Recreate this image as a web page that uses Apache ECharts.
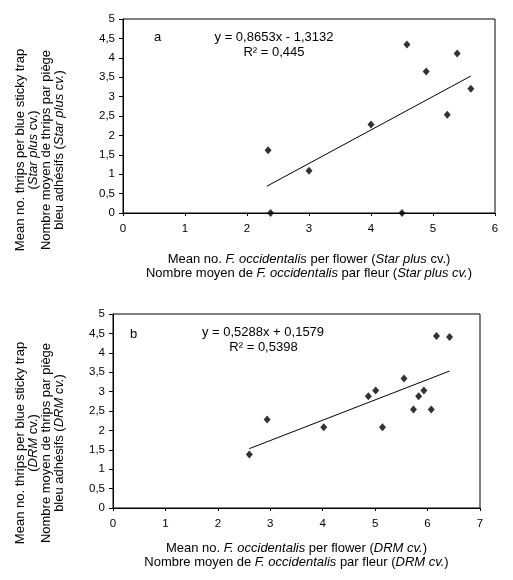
<!DOCTYPE html>
<html>
<head>
<meta charset="utf-8">
<script src="https://cdn.jsdelivr.net/npm/echarts@6/dist/echarts.min.js"></script>
<style>
html,body{margin:0;padding:0;background:#fff;}
#c{width:513px;height:580px;}
</style>
</head>
<body>
<div id="c"></div>
<script>
// Panel a: Star plus cv.
const starX = [2.34, 2.38, 3.00, 4.00, 4.50, 4.58, 4.89, 5.23, 5.39, 5.61];
const starY = [1.62, 0.00, 1.09, 2.28, 0.00, 4.34, 3.65, 2.53, 4.11, 3.20];
const trendAX = [2.32, 5.61];
const trendAY = [0.69, 3.53];
// Panel b: DRM cv.
const drmX = [2.60, 2.94, 4.02, 4.87, 5.01, 5.14, 5.55, 5.73, 5.83, 5.93, 6.07, 6.17, 6.42];
const drmY = [1.38, 2.28, 2.08, 2.88, 3.03, 2.08, 3.34, 2.54, 2.88, 3.03, 2.54, 4.43, 4.41];
const trendBX = [2.60, 6.42];
const trendBY = [1.53, 3.53];
// Axis ranges
const xMaxA = 6, xMaxB = 7, yMax = 5, yStep = 0.5, xStep = 1;
// Texts
const eqA = 'y = 0,8653x - 1,3132', r2A = 'R² = 0,445', labelA = 'a';
const eqB = 'y = 0,5288x + 0,1579', r2B = 'R² = 0,5398', labelB = 'b';

const FONT = 'Liberation Sans, Arial, sans-serif';
const TS = 13;   // title / annotation font size
const LS = 11.5; // tick label font size
const zip = (xs, ys) => xs.map((x, i) => [x, ys[i]]);
const fmt = v => String(v).replace('.', ',');

const chart = echarts.init(document.getElementById('c'), null, {renderer: 'canvas'});

const richStyle = {
  n: {fontFamily: FONT, fontSize: TS, color: '#000', lineHeight: 14},
  i: {fontFamily: FONT, fontSize: TS, color: '#000', fontStyle: 'italic', lineHeight: 14}
};

function xAxis(idx, max, name, gap) {
  return {
    type: 'value', gridIndex: idx, min: 0, max: max, interval: xStep,
    splitLine: {show: false},
    axisLine: {show: true, onZero: false, lineStyle: {color: '#000', width: 1}},
    axisTick: {show: true, inside: false, length: 3, lineStyle: {color: '#000'}},
    axisLabel: {color: '#000', fontFamily: FONT, fontSize: LS, margin: 10, formatter: fmt},
    name: name, nameLocation: 'middle', nameGap: gap,
    nameTextStyle: {color: '#000', fontFamily: FONT, fontSize: TS, lineHeight: 14, rich: richStyle}
  };
}
function yAxis(idx) {
  return {
    type: 'value', gridIndex: idx, min: 0, max: yMax, interval: yStep,
    splitLine: {show: false},
    axisLine: {show: true, onZero: false, lineStyle: {color: '#000', width: 1}},
    axisTick: {show: true, inside: false, length: 4, lineStyle: {color: '#000'}},
    axisLabel: {color: '#000', fontFamily: FONT, fontSize: LS, margin: 8, formatter: fmt}
  };
}

function ytitle(cx, cy, cv) {
  return {
    type: 'text', x: cx, y: cy, rotation: Math.PI / 2,
    style: {
      text: '{n|Mean no. thrips per blue sticky trap}\n' + cv.l2 + '\n{n|Nombre moyen de thrips par piège}\n' + cv.l4,
      rich: {
        n: {fontFamily: FONT, fontSize: TS, fill: '#000', lineHeight: 13},
        i: {fontFamily: FONT, fontSize: TS, fill: '#000', fontStyle: 'italic', lineHeight: 13}
      },
      font: TS + 'px ' + FONT, fill: '#000', lineHeight: 13,
      align: 'center', verticalAlign: 'middle'
    }
  };
}
function txt(x, y, s, align) {
  return {type: 'text', x: x, y: y,
    style: {text: s, font: TS + 'px ' + FONT, fill: '#000', align: align || 'center', verticalAlign: 'middle'}};
}

const option = {
  backgroundColor: '#fff',
  animation: false,
  grid: [
    {left: 123, top: 19, width: 372, height: 194, show: true, borderColor: '#000', borderWidth: 1, backgroundColor: 'transparent'},
    {left: 113, top: 314, width: 367, height: 194, show: true, borderColor: '#000', borderWidth: 1, backgroundColor: 'transparent'}
  ],
  xAxis: [
    xAxis(0, xMaxA, '{n|Mean no. }{i|F. occidentalis}{n| per flower (}{i|Star plus}{n| cv.)}\n{n|Nombre moyen de }{i|F. occidentalis}{n| par fleur (}{i|Star plus cv.}{n|)}', 39),
    xAxis(1, xMaxB, '{n|Mean no. }{i|F. occidentalis}{n| per flower (}{i|DRM cv.}{n|)}\n{n|Nombre moyen de }{i|F. occidentalis}{n| par fleur (}{i|DRM cv.}{n|)}', 33)
  ],
  yAxis: [yAxis(0), yAxis(1)],
  series: [
    {type: 'scatter', xAxisIndex: 0, yAxisIndex: 0, data: zip(starX, starY), symbol: 'diamond', symbolSize: [7, 8], itemStyle: {color: '#000'}, z: 3},
    {type: 'line', xAxisIndex: 0, yAxisIndex: 0, data: zip(trendAX, trendAY), showSymbol: false, symbol: 'none', lineStyle: {color: '#000', width: 1}},
    {type: 'scatter', xAxisIndex: 1, yAxisIndex: 1, data: zip(drmX, drmY), symbol: 'diamond', symbolSize: [7, 8], itemStyle: {color: '#000'}, z: 3},
    {type: 'line', xAxisIndex: 1, yAxisIndex: 1, data: zip(trendBX, trendBY), showSymbol: false, symbol: 'none', lineStyle: {color: '#000', width: 1}}
  ],
  graphic: [
    ytitle(39.5, 150, {l2: '{n|(}{i|Star plus}{n| cv.)}', l4: '{n|bleu adhésifs (}{i|Star plus cv.}{n|)}'}),
    ytitle(39.5, 443, {l2: '{n|(}{i|DRM}{n| cv.)}', l4: '{n|bleu adhésifs (}{i|DRM cv.}{n|)}'}),
    txt(157.5, 37.5, labelA),
    txt(274, 37.5, eqA),
    txt(274, 52.5, r2A),
    txt(133.5, 334, labelB),
    txt(263, 332, eqB),
    txt(263.5, 347.5, r2B)
  ]
};
chart.setOption(option);
</script>
</body>
</html>
